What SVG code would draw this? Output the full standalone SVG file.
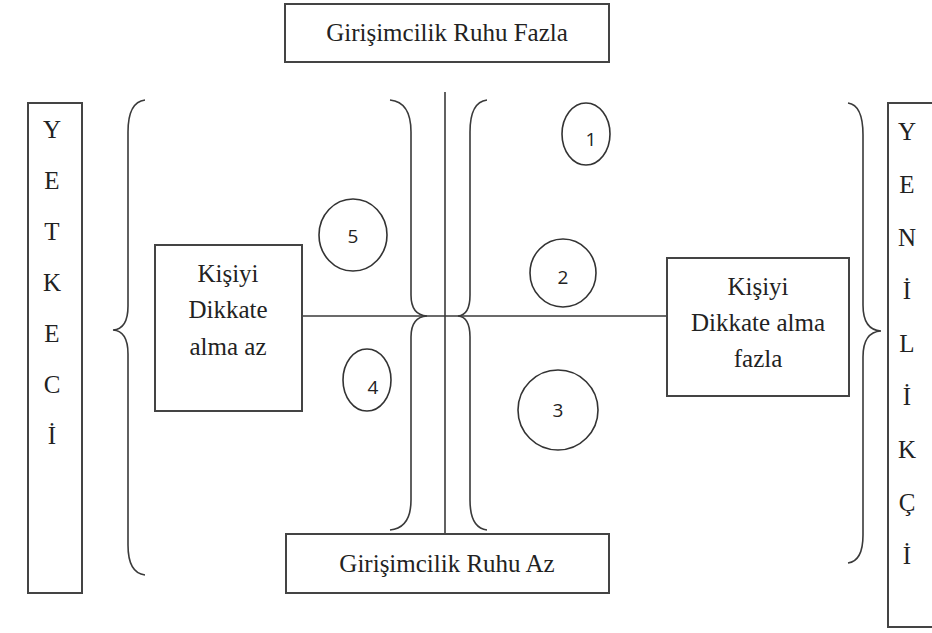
<svg xmlns="http://www.w3.org/2000/svg" width="932" height="633" viewBox="0 0 932 633">
<style>
.box{fill:#fff;stroke:#444;stroke-width:2}
.ln{fill:none;stroke:#3a3a3a;stroke-width:1.6}
.t{font-family:"Liberation Serif","Times New Roman",serif;font-size:25px;fill:#222;text-anchor:middle}
.n{font-family:"Open Sans","Noto Sans",sans-serif;font-size:19px;fill:#222;text-anchor:middle}
.c{fill:none;stroke:#333;stroke-width:1.6}
</style>
<rect width="932" height="633" fill="#fff"/>
<g id="connectors">
<line class="ln" x1="445" y1="92" x2="445" y2="534"/>
<line class="ln" x1="300" y1="316" x2="667" y2="316"/>
<path class="ln" d="M145,100 Q128,102 128,132 L128,306 Q128,329 113,330 Q128,331 128,354 L128,545 Q128,573 145,575"/>
<path class="ln" d="M848,103 Q863,105 863,135 L863,305 Q863,330 881,331 Q863,332 863,357 L863,535 Q863,561 848,563"/>
<path class="ln" d="M390,100 Q411,102 411,132 L411,295 Q411,315 427,316 Q411,317 411,337 L411,500 Q411,528 390,530"/>
<path class="ln" d="M487,100 Q470,102 470,132 L470,295 Q470,315 458,316 Q470,317 470,337 L470,500 Q470,528 487,530"/>
</g>
<g id="top">
<rect class="box" x="285" y="4" width="324" height="58"/>
<text class="t" x="447" y="41">Girişimcilik Ruhu Fazla</text>
</g>
<g id="bottom">
<rect class="box" x="286" y="534" width="323" height="59"/>
<text class="t" x="447" y="572">Girişimcilik Ruhu Az</text>
</g>
<g id="yetkeci">
<rect class="box" x="28" y="103" width="54" height="490"/>
<text class="t" x="52" y="138">Y</text>
<text class="t" x="52" y="189">E</text>
<text class="t" x="52" y="240">T</text>
<text class="t" x="52" y="291">K</text>
<text class="t" x="52" y="342">E</text>
<text class="t" x="52" y="393">C</text>
<text class="t" x="52" y="444">İ</text>
</g>
<g id="yenilikci">
<rect class="box" x="888" y="103" width="60" height="524"/>
<text class="t" x="907" y="140">Y</text>
<text class="t" x="907" y="193">E</text>
<text class="t" x="907" y="246">N</text>
<text class="t" x="907" y="299">İ</text>
<text class="t" x="907" y="352">L</text>
<text class="t" x="907" y="405">İ</text>
<text class="t" x="907" y="458">K</text>
<text class="t" x="907" y="511">Ç</text>
<text class="t" x="907" y="564">İ</text>
</g>
<g id="left-box">
<rect class="box" x="155" y="245" width="147" height="166"/>
<text class="t" x="228" y="282">Kişiyi</text>
<text class="t" x="228" y="318">Dikkate</text>
<text class="t" x="228" y="355">alma az</text>
</g>
<g id="right-box">
<rect class="box" x="667" y="258" width="182" height="138"/>
<text class="t" x="758" y="295">Kişiyi</text>
<text class="t" x="758" y="331">Dikkate alma</text>
<text class="t" x="758" y="367">fazla</text>
</g>
<g id="c1"><ellipse class="c" cx="586" cy="134" rx="24" ry="31"/><text class="n" x="591" y="146">1</text></g>
<g id="c2"><ellipse class="c" cx="563" cy="273" rx="33" ry="34"/><text class="n" x="563" y="284">2</text></g>
<g id="c3"><ellipse class="c" cx="558" cy="410" rx="40" ry="40"/><text class="n" x="558" y="417">3</text></g>
<g id="c4"><ellipse class="c" cx="367" cy="380" rx="24" ry="31"/><text class="n" x="373" y="394">4</text></g>
<g id="c5"><ellipse class="c" cx="353" cy="235" rx="34" ry="36"/><text class="n" x="353" y="243">5</text></g>
</svg>
